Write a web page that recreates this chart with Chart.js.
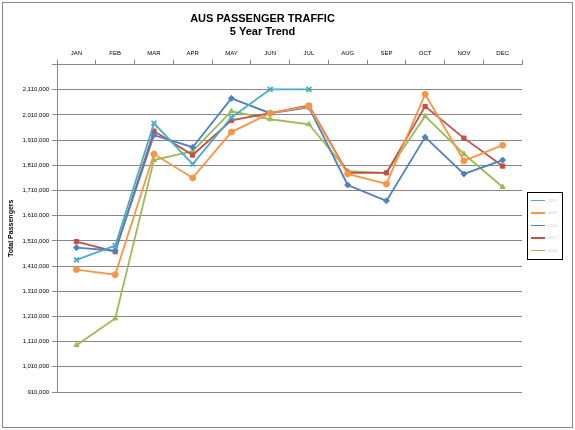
<!DOCTYPE html>
<html><head>
<script src="https://cdn.jsdelivr.net/npm/chart.js"></script>
<style>
body{margin:0;background:#fff;font-family:"Liberation Sans",Arial,sans-serif;}
#wrap{position:absolute;left:2px;top:2px;width:569px;height:424px;border:1px solid #888;}
#legend{position:absolute;left:527px;top:192px;width:34px;height:66px;border:1px solid #000;background:#fff;font-size:4px;color:#ccc;}
#legend div{display:flex;align-items:center;height:12.5px;padding-left:3px;}
#legend div:first-child{margin-top:1px;}
#legend span.l{display:inline-block;width:14px;height:1.5px;margin-right:3px;}
</style></head><body>
<div id="wrap"><canvas id="c" width="569" height="424"></canvas></div>
<div id="legend"></div>
<script>
const MONTHS = ['JAN','FEB','MAR','APR','MAY','JUN','JUL','AUG','SEP','OCT','NOV','DEC'];
const Y2010 = [1435000,1491000,1977000,1815000,2000000,2112000,2112000,null,null,null,null,null];
const Y2009 = [1396000,1376000,1855000,1760000,1942000,2017000,2044000,1776000,1736000,2092000,1828000,1890000];
const Y2008 = [1483000,1471000,1930000,1882000,2076000,2017000,2040000,1732000,1669000,1922000,1776000,1831000];
const Y2007 = [1507000,1467000,1946000,1851000,1989000,2017000,2048000,1780000,1780000,2044000,1918000,1807000];
const Y2006 = [1096000,1202000,1831000,1866000,2025000,1993000,1973000,1787000,1780000,2005000,1855000,1724000];
const SERIES = [
  {label:'2010', data:Y2010, color:'#4bacc6', style:'crossRot'},
  {label:'2009', data:Y2009, color:'#f79646', style:'circle'},
  {label:'2008', data:Y2008, color:'#4f81bd', style:'rectRot'},
  {label:'2007', data:Y2007, color:'#c0504d', style:'rect'},
  {label:'2006', data:Y2006, color:'#9bbb59', style:'triangle'}
];
const leg = document.getElementById('legend');
SERIES.forEach(s => {
  const d = document.createElement('div');
  d.innerHTML = `<span class="l" style="background:${s.color}"></span>${s.label}`;
  leg.appendChild(d);
});
new Chart(document.getElementById('c'), {
  type:'line',
  data:{labels:MONTHS, datasets:SERIES.map(s => ({
    label:s.label, data:s.data, borderColor:s.color, backgroundColor:s.color,
    pointStyle:s.style, pointRadius:s.style==='crossRot'?3.5:3, borderWidth:1.8, pointBorderWidth:s.style==='crossRot'?1.8:1, tension:0
  }))},
  options:{
    responsive:false, animation:false,
    layout:{padding:{left:0,right:50,top:0,bottom:35}},
    plugins:{legend:{display:false}, tooltip:{enabled:false},
      title:{display:true, text:['AUS PASSENGER TRAFFIC','5 Year Trend'], color:'#000', font:{size:11,weight:'bold',family:'Liberation Sans'}, padding:{top:9,bottom:8}}},
    scales:{
      x:{position:'top', offset:true,
        grid:{display:true, drawOnChartArea:false, offset:true, color:'#888', tickLength:5},
        border:{color:'#888'},
        ticks:{color:'#000', font:{size:6}}},
      y:{min:910000, max:2210000,
        ticks:{stepSize:100000, color:'#000', font:{size:6},
          callback:(v)=> v>=2210000 ? '' : v.toLocaleString('en-US')},
        grid:{color:'#888', tickLength:5},
        border:{color:'#888'},
        title:{display:true, text:'Total Passengers', color:'#000', font:{size:7,weight:'bold'}}}
    }
  }
});
</script></body></html>
